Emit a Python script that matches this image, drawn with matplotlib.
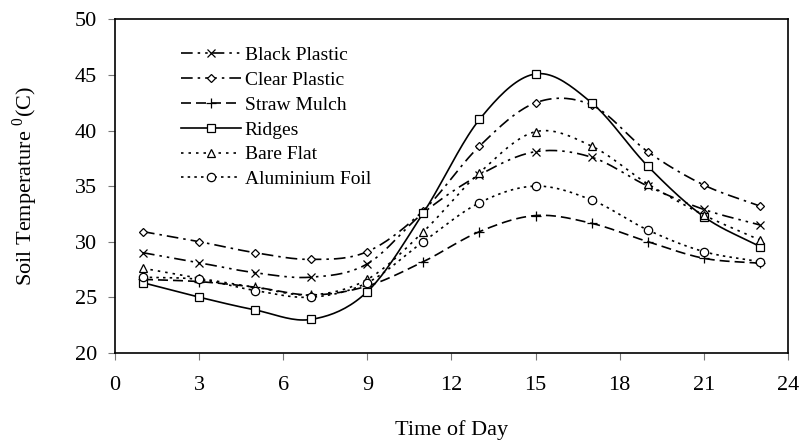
import numpy as np
import matplotlib
matplotlib.use("Agg")
import matplotlib.pyplot as plt

hours = [1, 3, 5, 7, 9, 11, 13, 15, 17, 19, 21, 23]
black_plastic = [29.0, 28.1, 27.2, 26.8, 28.0, 32.6, 36.0, 38.1, 37.6, 35.0, 32.9, 31.5]
clear_plastic = [30.9, 30.0, 29.0, 28.4, 29.1, 32.8, 38.6, 42.5, 42.3, 38.1, 35.1, 33.2]
straw_mulch = [26.6, 26.4, 25.9, 25.2, 26.0, 28.2, 30.9, 32.35, 31.65, 30.0, 28.5, 28.05]
ridges = [26.3, 25.0, 23.85, 23.0, 25.5, 32.6, 41.0, 45.1, 42.5, 36.8, 32.25, 29.55]
bare_flat = [27.6, 26.7, 25.9, 25.2, 26.6, 30.9, 36.2, 39.9, 38.6, 35.2, 32.4, 30.15]
aluminium_foil = [26.8, 26.6, 25.6, 25.0, 26.3, 30.0, 33.5, 35.0, 33.75, 31.05, 29.1, 28.2]

labels = ["Black Plastic", "Clear Plastic", "Straw Mulch", "Ridges", "Bare Flat", "Aluminium Foil"]
xticks = [0, 3, 6, 9, 12, 15, 18, 21, 24]
yticks = [20, 25, 30, 35, 40, 45, 50]

plt.rcParams['font.family'] = ['Liberation Serif', 'DejaVu Serif']
plt.rcParams['mathtext.fontset'] = 'custom'
plt.rcParams['mathtext.rm'] = 'Liberation Serif'


def smooth(x, y, n=20):
    """Catmull-Rom curve through the data points (for drawing only)."""
    x = np.asarray(x, float)
    y = np.asarray(y, float)
    P = np.column_stack([x, y])
    P = np.vstack([2 * P[0] - P[1], P, 2 * P[-1] - P[-2]])
    xs, ys, idx = [], [], []
    for i in range(1, len(P) - 2):
        p0, p1, p2, p3 = P[i - 1], P[i], P[i + 1], P[i + 2]
        t = np.linspace(0, 1, n, endpoint=False)[:, None]
        pts = 0.5 * ((2 * p1) + (-p0 + p2) * t + (2 * p0 - 5 * p1 + 4 * p2 - p3) * t ** 2
                     + (-p0 + 3 * p1 - 3 * p2 + p3) * t ** 3)
        idx.append(len(xs))
        xs.extend(pts[:, 0])
        ys.extend(pts[:, 1])
    idx.append(len(xs))
    xs.append(x[-1])
    ys.append(y[-1])
    return np.array(xs), np.array(ys), idx


fig = plt.figure(figsize=(8.04, 4.40), dpi=100)
ax = fig.add_axes([0.143, 0.1984, 0.837, 0.7573])

series = [black_plastic, clear_plastic, straw_mulch, ridges, bare_flat, aluminium_foil]
styles = [
    dict(ls=(0, (7, 3, 1.5, 3, 1.5, 3)), marker='x', ms=6),
    dict(ls=(0, (7, 3, 1.5, 3)), marker='D', ms=4),
    dict(ls=(0, (6, 3)), marker='+', ms=7),
    dict(ls='-', marker='s', ms=6),
    dict(ls=(0, (1.5, 3)), marker='^', ms=6),
    dict(ls=(0, (1.5, 2.5)), marker='o', ms=6),
]

for vals, lab, st in zip(series, labels, styles):
    xs, ys, idx = smooth(hours, vals)
    ax.plot(xs, ys, color='black', lw=1.2, linestyle=st['ls'], marker=st['marker'],
            markersize=st['ms'], markevery=idx, markerfacecolor='white',
            markeredgecolor='black', markeredgewidth=0.9, label=lab)

ax.set_xlim(0, 24)
ax.set_ylim(20, 50)
ax.set_xticks(xticks)
ax.set_yticks(yticks)
ax.tick_params(axis='both', direction='out', length=5, width=0.8, labelsize=16, color='#777777')
ax.tick_params(axis='y', pad=8)
ax.tick_params(axis='x', pad=11.5)
for s in ax.spines.values():
    s.set_linewidth(1.2)
    s.set_color('black')

ax.set_xlabel("Time of Day", fontsize=16, labelpad=18)
ax.set_ylabel("Soil Temperature $^0$(C)", fontsize=16, labelpad=25)

ax.legend(loc='upper left', bbox_to_anchor=(0.215, 0.912), bbox_transform=fig.transFigure,
          frameon=False, fontsize=14, handlelength=3.1, handletextpad=0.2,
          labelspacing=0.37, borderaxespad=0)

fig.savefig("out.png", dpi=100, facecolor='white')
